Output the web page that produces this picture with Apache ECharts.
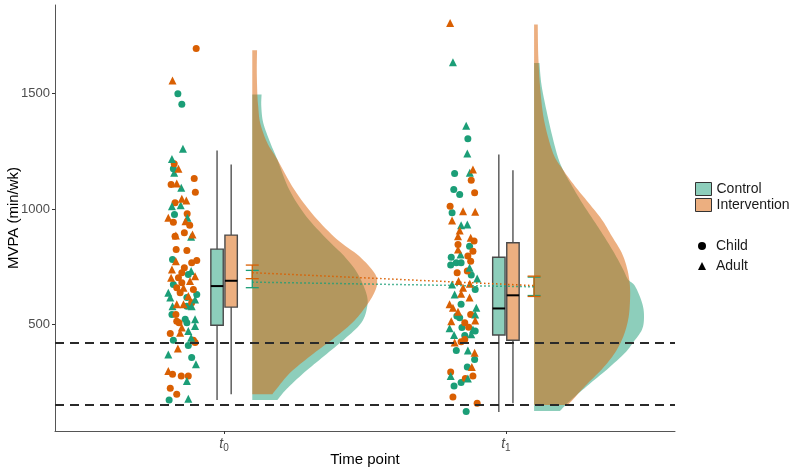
<!DOCTYPE html>
<html><head><meta charset="utf-8">
<script src="https://cdn.jsdelivr.net/npm/echarts@6/dist/echarts.min.js"></script>
<style>html,body{margin:0;padding:0;background:#fff}#c{width:800px;height:473px}</style>
</head><body><div id="c"></div>
<script>
// ---------- data ----------
const timePositions = [1, 2];
const timeSubscripts = ['0', '1'];
const yTicks = [500, 1000, 1500];
const thresholds = [420, 150];
const groupNames = ['Control', 'Intervention'];
const groupColors = ['#1B9E77', '#D95F02'];
const groupFills = ['rgba(27,158,119,0.5)', 'rgba(217,95,2,0.5)'];

// jittered observations: [x position, MVPA]
const controlChild = [[0.836,1499],[0.850,1454],[0.820,1174],[0.824,976],[0.817,781],[0.873,716],[0.820,673],[0.903,630],[0.868,616],[0.868,579],[0.815,543],[0.862,522],[0.868,507],[0.820,431],[0.873,409],[0.885,356],[0.805,172],
  [1.865,1304],[1.818,1154],[1.815,1084],[1.836,1063],[1.809,984],[1.871,839],[1.806,791],[1.824,767],[1.841,767],[1.804,757],[1.877,714],[1.891,651],[1.841,587],[1.826,536],[1.836,529],[1.844,486],[1.891,471],[1.854,452],[1.824,387],[1.889,348],[1.863,315],[1.841,248],[1.816,233],[1.859,122]];
const controlAdult = [[0.854,1261],[0.815,1217],[0.823,1157],[0.848,1092],[0.815,1012],[0.846,1016],[0.870,962],[0.883,880],[0.883,731],[0.802,637],[0.809,616],[0.897,608],[0.817,579],[0.885,579],[0.897,522],[0.897,493],[0.873,471],[0.883,442],[0.802,370],[0.900,327],[0.868,255],[0.873,178],
  [1.812,1636],[1.859,1361],[1.863,1240],[1.872,1157],[1.841,930],[1.863,933],[1.839,803],[1.871,745],[1.898,699],[1.809,673],[1.818,630],[1.895,572],[1.891,543],[1.800,483],[1.883,478],[1.816,454],[1.877,457],[1.865,387],[1.804,276],[1.865,266]];
const interventionChild = [[0.901,1695],[0.823,1196],[0.894,1132],[0.812,1106],[0.898,1073],[0.826,1027],[0.869,979],[0.820,943],[0.878,930],[0.859,897],[0.826,882],[0.830,825],[0.868,820],[0.903,777],[0.885,767],[0.859,745],[0.850,724],[0.838,702],[0.850,680],[0.832,659],[0.891,651],[0.844,637],[0.885,594],[0.829,543],[0.832,514],[0.840,507],[0.809,460],[0.891,431],[0.897,421],[0.817,284],[0.848,276],[0.873,276],[0.809,223],[0.832,197],
  [1.877,1125],[1.889,1070],[1.802,1012],[1.887,861],[1.830,846],[1.883,817],[1.865,796],[1.875,774],[1.863,731],[1.827,724],[1.875,543],[1.854,507],[1.868,488],[1.854,435],[1.841,425],[1.804,294],[1.883,276],[1.856,266],[1.812,185],[1.898,158]];
const interventionAdult = [[0.817,1557],[0.838,1174],[0.832,1110],[0.850,1044],[0.866,1037],[0.802,962],[0.863,947],[0.829,885],[0.888,890],[0.829,774],[0.815,738],[0.897,709],[0.812,702],[0.879,688],[0.856,659],[0.873,623],[0.832,587],[0.856,587],[0.850,486],[0.844,464],[0.836,395],[0.802,298],
  [1.802,1806],[1.883,1171],[1.848,990],[1.891,988],[1.809,950],[1.836,907],[1.830,882],[1.875,875],[1.830,825],[1.832,688],[1.872,676],[1.848,659],[1.841,633],[1.871,616],[1.800,587],[1.812,572],[1.830,555],[1.806,514],[1.891,517],[1.818,421],[1.889,377],[1.879,315]];

// boxplots: [x, min, q1, median, q3, max]
const controlBox = [[0.975,172,496,666,826,1254],[1.975,120,454,569,791,1236]];
const interventionBox = [[1.025,197,575,689,887,1193],[2.025,158,431,626,854,1168]];

// mean and interval: [x, mean, lower, upper]
const controlMean = [[1.1,683,659,734],[2.1,663,625,705]];
const interventionMean = [[1.1,724,698,757],[2.1,668,621,709]];

// half-violin clouds: base x and [MVPA, density width in x units]
const cloudBase = [1.1, 2.1];
const controlCloudT0 = [[1496,0.033],[1445,0.032],[1373,0.039],[1287,0.064],[1214,0.089],[1084,0.131],[969,0.191],[868,0.266],[796,0.326],[724,0.372],[637,0.404],[579,0.408],[507,0.387],[435,0.326],[363,0.255],[291,0.184],[219,0.121],[172,0.089]];
const interventionCloudT0 = [[1688,0.017],[1600,0.016],[1496,0.018],[1445,0.021],[1373,0.028],[1287,0.053],[1214,0.089],[1084,0.149],[969,0.220],[868,0.301],[796,0.379],[724,0.433],[680,0.443],[637,0.433],[579,0.404],[507,0.355],[435,0.284],[363,0.206],[291,0.135],[219,0.085],[197,0.071]];
const controlCloudT1 = [[1633,0.019],[1532,0.027],[1387,0.051],[1243,0.080],[1171,0.102],[1099,0.135],[1027,0.170],[955,0.209],[882,0.248],[810,0.284],[738,0.316],[695,0.333],[666,0.358],[594,0.383],[536,0.390],[478,0.383],[421,0.351],[377,0.323],[305,0.259],[233,0.188],[161,0.121],[125,0.092]];
const interventionCloudT1 = [[1799,0.013],[1700,0.014],[1633,0.016],[1532,0.021],[1387,0.035],[1243,0.067],[1171,0.102],[1099,0.145],[1027,0.193],[955,0.240],[882,0.276],[810,0.311],[738,0.331],[666,0.340],[594,0.340],[522,0.334],[449,0.317],[377,0.287],[305,0.240],[233,0.181],[161,0.128],[151,0.117]];

// ---------- chart ----------
const FONT = '"Liberation Sans", Arial, sans-serif';
const BOX_W = 0.044, CAP_W = 0.046;

function spline(p, n) {
  const out = [];
  for (let i = 0; i < p.length - 1; i++) {
    const p0 = p[i - 1] || p[i], p1 = p[i], p2 = p[i + 1], p3 = p[i + 2] || p[i + 1];
    for (let k = 0; k < n; k++) {
      const t = k / n, t2 = t * t, t3 = t2 * t;
      const f = j => 0.5 * (2 * p1[j] + (-p0[j] + p2[j]) * t + (2 * p0[j] - 5 * p1[j] + 4 * p2[j] - p3[j]) * t2 + (-p0[j] + 3 * p1[j] - 3 * p2[j] + p3[j]) * t3);
      out.push([f(0), f(1)]);
    }
  }
  out.push(p[p.length - 1]);
  return out;
}

function cloudSeries(name, base, dens, fill) {
  return {
    type: 'custom', name: name, silent: true, clip: false, z: 3,
    data: [[base, dens[0][0]]],
    renderItem: function (params, api) {
      const edge = dens.map(d => api.coord([base + d[1], d[0]]));
      const pts = [api.coord([base, dens[0][0]])].concat(spline(edge, 8), [api.coord([base, dens[dens.length - 1][0]])]);
      return { type: 'polygon', shape: { points: pts }, style: { fill: fill, stroke: null } };
    }
  };
}

function boxSeries(name, data, fill) {
  return {
    type: 'custom', name: name, z: 2,
    itemStyle: { color: fill },
    data: data,
    renderItem: function (params, api) {
      const x = api.value(0);
      const hw = api.size([BOX_W, 0])[0] / 2;
      const pMin = api.coord([x, api.value(1)]), pQ1 = api.coord([x, api.value(2)]),
        pMed = api.coord([x, api.value(3)]), pQ3 = api.coord([x, api.value(4)]), pMax = api.coord([x, api.value(5)]);
      return {
        type: 'group', children: [
          { type: 'line', shape: { x1: pMin[0], y1: pMin[1], x2: pQ1[0], y2: pQ1[1] }, style: { stroke: '#222', lineWidth: 1.1 } },
          { type: 'line', shape: { x1: pQ3[0], y1: pQ3[1], x2: pMax[0], y2: pMax[1] }, style: { stroke: '#222', lineWidth: 1.1 } },
          { type: 'rect', shape: { x: pQ3[0] - hw, y: pQ3[1], width: 2 * hw, height: pQ1[1] - pQ3[1] }, style: { fill: fill, stroke: '#4a4a4a', lineWidth: 1.4 } },
          { type: 'line', shape: { x1: pMed[0] - hw, y1: pMed[1], x2: pMed[0] + hw, y2: pMed[1] }, style: { stroke: '#000', lineWidth: 2 } }
        ]
      };
    }
  };
}

function errSeries(name, data, color) {
  return {
    type: 'custom', name: name, z: 5, silent: true,
    data: data,
    renderItem: function (params, api) {
      const x = api.value(0);
      const hw = api.size([CAP_W, 0])[0] / 2;
      const lo = api.coord([x, api.value(2)]), hi = api.coord([x, api.value(3)]);
      const st = { stroke: color, lineWidth: 1.3 };
      return {
        type: 'group', children: [
          { type: 'line', shape: { x1: lo[0], y1: lo[1], x2: hi[0], y2: hi[1] }, style: st },
          { type: 'line', shape: { x1: lo[0] - hw, y1: lo[1], x2: lo[0] + hw, y2: lo[1] }, style: st },
          { type: 'line', shape: { x1: hi[0] - hw, y1: hi[1], x2: hi[0] + hw, y2: hi[1] }, style: st }
        ]
      };
    }
  };
}

function meanLine(name, data, color) {
  return {
    type: 'line', name: name, z: 6, silent: true, symbol: 'none',
    data: data.map(d => [d[0], d[1]]),
    lineStyle: { color: color, width: 1.5, type: [1.5, 2.5] }
  };
}

function colored(arr, color) { return arr.map(d => ({ value: d, itemStyle: { color: color, opacity: 1 } })); }

const chart = echarts.init(document.getElementById('c'), null, { renderer: 'canvas' });
chart.setOption({
  animation: false,
  backgroundColor: '#fff',
  grid: { left: 55, right: 125, top: 5, bottom: 42, containLabel: false, outerBoundsMode: 'none' },
  xAxis: {
    type: 'value', min: 0.4, max: 2.6,
    name: 'Time point', nameLocation: 'middle', nameGap: 21, nameMoveOverlap: false,
    nameTextStyle: { fontFamily: FONT, fontSize: 15, color: '#000' },
    axisLine: { show: true, onZero: false, lineStyle: { color: '#555', width: 1 } },
    axisTick: { show: true, length: 3, customValues: timePositions, lineStyle: { color: '#333' } },
    axisLabel: {
      customValues: timePositions, margin: 5,
      formatter: v => '{t|t}{s|' + timeSubscripts[timePositions.indexOf(v)] + '}',
      rich: {
        t: { fontFamily: FONT, fontSize: 14, fontStyle: 'italic', color: '#4d4d4d' },
        s: { fontFamily: FONT, fontSize: 10, color: '#4d4d4d', padding: [7, 0, 0, 0] }
      }
    },
    splitLine: { show: false }
  },
  yAxis: {
    type: 'value', min: 38, max: 1884,
    name: 'MVPA (min/wk)', nameLocation: 'middle', nameGap: 34, nameRotate: 90, nameMoveOverlap: false,
    nameTextStyle: { fontFamily: FONT, fontSize: 15, color: '#000' },
    axisLine: { show: true, onZero: false, lineStyle: { color: '#555', width: 1 } },
    axisTick: { show: true, length: 3, customValues: yTicks, lineStyle: { color: '#333' } },
    axisLabel: { customValues: yTicks, margin: 5, fontFamily: FONT, fontSize: 13, color: '#4d4d4d', formatter: v => String(v) },
    splitLine: { show: false }
  },
  legend: [
    {
      orient: 'vertical', left: 690, top: 177, itemWidth: 16, itemHeight: 13, itemGap: 2,
      textStyle: { fontFamily: FONT, fontSize: 14, color: '#1a1a1a' },
      selectedMode: false,
      data: groupNames.map((g, i) => ({ name: g, icon: 'rect', itemStyle: { color: groupFills[i], borderColor: '#333', borderWidth: 1 } }))
    },
    {
      orient: 'vertical', left: 693, top: 234, itemWidth: 8, itemHeight: 8, itemGap: 6,
      textStyle: { fontFamily: FONT, fontSize: 14, color: '#1a1a1a', padding: [0, 0, 0, 5] },
      selectedMode: false,
      data: [{ name: 'Child', icon: 'circle', itemStyle: { color: '#000' } }, { name: 'Adult', icon: 'triangle', itemStyle: { color: '#000' } }]
    }
  ],
  series: [
    {
      type: 'line', name: 'thresholds', data: [], z: 1, silent: true,
      markLine: {
        silent: true, symbol: 'none', label: { show: false },
        lineStyle: { color: '#2a2a2a', width: 2, type: [9, 6] },
        data: thresholds.map(v => ({ yAxis: v }))
      }
    },
    {
      type: 'scatter', name: 'Child', symbol: 'circle', symbolSize: 7, z: 2, itemStyle: { color: '#000', opacity: 1 },
      data: colored(controlChild, groupColors[0]).concat(colored(interventionChild, groupColors[1]))
    },
    {
      type: 'scatter', name: 'Adult', symbol: 'triangle', symbolSize: 8, z: 2, itemStyle: { color: '#000', opacity: 1 },
      data: colored(controlAdult, groupColors[0]).concat(colored(interventionAdult, groupColors[1]))
    },
    boxSeries('Control', controlBox, groupFills[0]),
    boxSeries('Intervention', interventionBox, groupFills[1]),
    cloudSeries('Control cloud t0', cloudBase[0], controlCloudT0, groupFills[0]),
    cloudSeries('Control cloud t1', cloudBase[1], controlCloudT1, groupFills[0]),
    cloudSeries('Intervention cloud t0', cloudBase[0], interventionCloudT0, groupFills[1]),
    cloudSeries('Intervention cloud t1', cloudBase[1], interventionCloudT1, groupFills[1]),
    errSeries('Control interval', controlMean, groupColors[0]),
    errSeries('Intervention interval', interventionMean, groupColors[1]),
    meanLine('Control mean', controlMean, groupColors[0]),
    meanLine('Intervention mean', interventionMean, groupColors[1])
  ]
});
</script>
</body></html>
